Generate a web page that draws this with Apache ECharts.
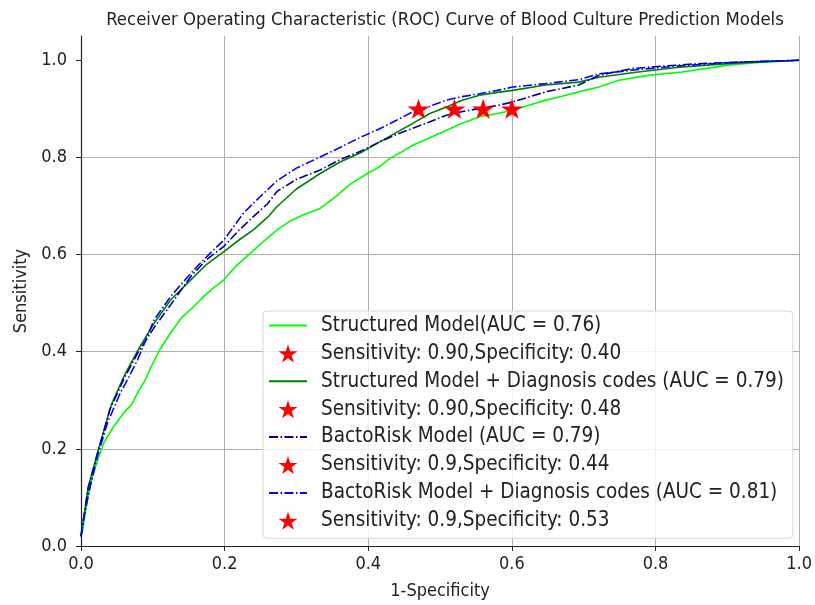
<!DOCTYPE html>
<html>
<head>
<meta charset="utf-8">
<script src="https://cdn.jsdelivr.net/npm/echarts@6/dist/echarts.min.js"></script>
<style>
  html,body{margin:0;padding:0;background:#fff;}
  #chart{width:815px;height:605px;}
</style>
</head>
<body>
<div id="chart"></div>
<script>
// ROC curve points (x = 1-Specificity, y = Sensitivity)
const structX = [0, 0.002, 0.008, 0.016, 0.024, 0.032, 0.045, 0.06, 0.07, 0.079, 0.09, 0.097, 0.11, 0.125, 0.14, 0.155, 0.171, 0.185, 0.199, 0.215, 0.236, 0.255, 0.273, 0.29, 0.31, 0.333, 0.355, 0.375, 0.4, 0.415, 0.43, 0.445, 0.462, 0.485, 0.509, 0.53, 0.555, 0.578, 0.601, 0.625, 0.647, 0.67, 0.693, 0.721, 0.749, 0.79, 0.837, 0.883, 0.9, 0.94, 1]
const structY = [0.02, 0.03, 0.09, 0.144, 0.18, 0.213, 0.245, 0.275, 0.29, 0.316, 0.343, 0.367, 0.405, 0.439, 0.47, 0.49, 0.514, 0.532, 0.548, 0.575, 0.603, 0.628, 0.651, 0.668, 0.682, 0.695, 0.72, 0.745, 0.768, 0.78, 0.798, 0.81, 0.825, 0.84, 0.856, 0.87, 0.884, 0.89, 0.897, 0.908, 0.918, 0.926, 0.935, 0.945, 0.959, 0.969, 0.976, 0.986, 0.99, 0.995, 1]

const structDiagX = [0, 0.003, 0.01, 0.023, 0.042, 0.06, 0.08, 0.102, 0.125, 0.153, 0.175, 0.199, 0.22, 0.24, 0.26, 0.273, 0.3, 0.333, 0.36, 0.39, 0.416, 0.44, 0.462, 0.485, 0.509, 0.53, 0.555, 0.58, 0.601, 0.647, 0.693, 0.721, 0.77, 0.83, 0.9, 0.95, 1]
const structDiagY = [0.02, 0.05, 0.12, 0.192, 0.29, 0.35, 0.405, 0.459, 0.507, 0.548, 0.58, 0.606, 0.63, 0.651, 0.677, 0.699, 0.735, 0.767, 0.79, 0.81, 0.832, 0.852, 0.87, 0.89, 0.904, 0.917, 0.928, 0.934, 0.938, 0.949, 0.955, 0.965, 0.975, 0.985, 0.993, 0.997, 1]

const bactoX = [0, 0.003, 0.01, 0.023, 0.04, 0.06, 0.08, 0.102, 0.125, 0.153, 0.175, 0.199, 0.22, 0.24, 0.26, 0.273, 0.3, 0.333, 0.36, 0.39, 0.416, 0.44, 0.462, 0.485, 0.509, 0.53, 0.555, 0.58, 0.601, 0.625, 0.647, 0.67, 0.693, 0.721, 0.767, 0.81, 0.86, 0.93, 1]
const bactoY = [0.02, 0.05, 0.12, 0.19, 0.28, 0.345, 0.4, 0.45, 0.497, 0.555, 0.59, 0.617, 0.65, 0.678, 0.705, 0.73, 0.755, 0.774, 0.795, 0.813, 0.832, 0.848, 0.86, 0.873, 0.887, 0.894, 0.901, 0.907, 0.914, 0.925, 0.935, 0.942, 0.949, 0.969, 0.983, 0.988, 0.993, 0.997, 1]

const bactoDiagX = [0, 0.003, 0.012, 0.023, 0.037, 0.055, 0.065, 0.079, 0.102, 0.125, 0.145, 0.162, 0.18, 0.199, 0.226, 0.25, 0.273, 0.3, 0.333, 0.36, 0.39, 0.416, 0.44, 0.462, 0.485, 0.509, 0.53, 0.555, 0.58, 0.601, 0.647, 0.693, 0.721, 0.77, 0.83, 0.9, 1]
const bactoDiagY = [0.02, 0.05, 0.117, 0.185, 0.254, 0.316, 0.343, 0.384, 0.466, 0.514, 0.548, 0.576, 0.603, 0.63, 0.685, 0.72, 0.752, 0.778, 0.801, 0.82, 0.842, 0.859, 0.877, 0.894, 0.905, 0.918, 0.925, 0.931, 0.938, 0.945, 0.952, 0.96, 0.972, 0.98, 0.988, 0.995, 1]

// operating points (1-Specificity, Sensitivity)
const pointStruct = [0.60, 0.90]
const pointStructDiag = [0.52, 0.90]
const pointBacto = [0.56, 0.90]
const pointBactoDiag = [0.47, 0.90]

const names = [
  'Structured Model(AUC = 0.76)',
  'Sensitivity: 0.90,Specificity: 0.40',
  'Structured Model + Diagnosis codes (AUC = 0.79)',
  'Sensitivity: 0.90,Specificity: 0.48',
  'BactoRisk Model (AUC = 0.79)',
  'Sensitivity: 0.9,Specificity: 0.44',
  'BactoRisk Model + Diagnosis codes (AUC = 0.81)',
  'Sensitivity: 0.9,Specificity: 0.53'
]
const yTicks = [0, 0.2, 0.4, 0.6, 0.8, 1.0]

const star = 'path://M0,-1L0.2245,-0.309L0.951,-0.309L0.363,0.118L0.588,0.809L0,0.382L-0.588,0.809L-0.363,0.118L-0.951,-0.309L-0.2245,-0.309Z'
const font = '"DejaVu Sans Condensed", "DejaVu Sans"'
const textColor = '#222'

function pairs(xs, ys){
  return xs.map((x, i) => [x, ys[i]])
}
function curve(name, xs, ys, color, dash){
  return {
    name: name, type: 'line', data: pairs(xs, ys),
    symbol: 'none', animation: false,
    lineStyle: {color: color, width: 1.6, type: dash || 'solid'},
    itemStyle: {color: color}
  }
}
function point(name, p){
  return {
    name: name, type: 'scatter', data: [p], z: 5,
    symbol: star, symbolSize: [22, 21], symbolKeepAspect: true,
    itemStyle: {color: '#ff0000', opacity: 1}, animation: false
  }
}

const chart = echarts.init(document.getElementById('chart'))
chart.setOption({
  backgroundColor: '#fff',
  title: {
    text: 'Receiver Operating Characteristic (ROC) Curve of Blood Culture Prediction Models',
    left: 440, textAlign: 'center', top: 6,
    textStyle: {fontFamily: font, fontSize: 18.4, fontWeight: 'normal', color: textColor}
  },
  grid: {left: 81, right: 14, top: 36, bottom: 57},
  xAxis: {
    type: 'value', min: 0, max: 1, interval: 0.2,
    name: '1-Specificity', nameLocation: 'middle', nameGap: 36,
    nameTextStyle: {fontFamily: font, fontSize: 18, color: textColor},
    axisLine: {lineStyle: {color: '#222', width: 1.2}},
    axisTick: {show: true, length: 5, lineStyle: {color: '#222'}},
    axisLabel: {fontFamily: font, fontSize: 18, color: textColor, margin: 9, formatter: v => v.toFixed(1)},
    splitLine: {show: true, lineStyle: {color: '#b0b0b0', width: 1}}
  },
  yAxis: {
    type: 'value', min: 0, max: 1.05, interval: 0.2,
    name: 'Sensitivity', nameLocation: 'middle', nameGap: 50,
    nameTextStyle: {fontFamily: font, fontSize: 18, color: textColor},
    axisLine: {show: true, lineStyle: {color: '#222', width: 1.2}},
    axisTick: {show: true, length: 5, lineStyle: {color: '#222'}, customValues: yTicks},
    axisLabel: {fontFamily: font, fontSize: 18, color: textColor, margin: 14, customValues: yTicks, formatter: v => v.toFixed(1)},
    splitLine: {show: true, showMaxLine: false, lineStyle: {color: '#b0b0b0', width: 1}}
  },
  legend: {
    orient: 'vertical', left: 263, top: 311,
    padding: [4, 9, 7, 5],
    itemWidth: 38, itemHeight: 18, itemGap: 6.9,
    backgroundColor: 'rgba(255,255,255,0.8)',
    borderColor: '#d6d6d6', borderWidth: 1, borderRadius: 4,
    textStyle: {fontFamily: font, fontSize: 20.5, color: textColor, lineHeight: 20, padding: [0, 0, 0, 9]},
    data: names.map((n, i) => i % 2 ? {name: n, icon: star} : {name: n, itemStyle: {opacity: 0}})
  },
  series: [
    curve(names[0], structX, structY, '#00ff00'),
    point(names[1], pointStruct),
    curve(names[2], structDiagX, structDiagY, '#008000'),
    point(names[3], pointStructDiag),
    curve(names[4], bactoX, bactoY, '#00008b', [9, 2.5, 1.5, 2.5]),
    point(names[5], pointBacto),
    curve(names[6], bactoDiagX, bactoDiagY, '#0000ff', [9, 2.5, 1.5, 2.5]),
    point(names[7], pointBactoDiag)
  ]
})
</script>
</body>
</html>
